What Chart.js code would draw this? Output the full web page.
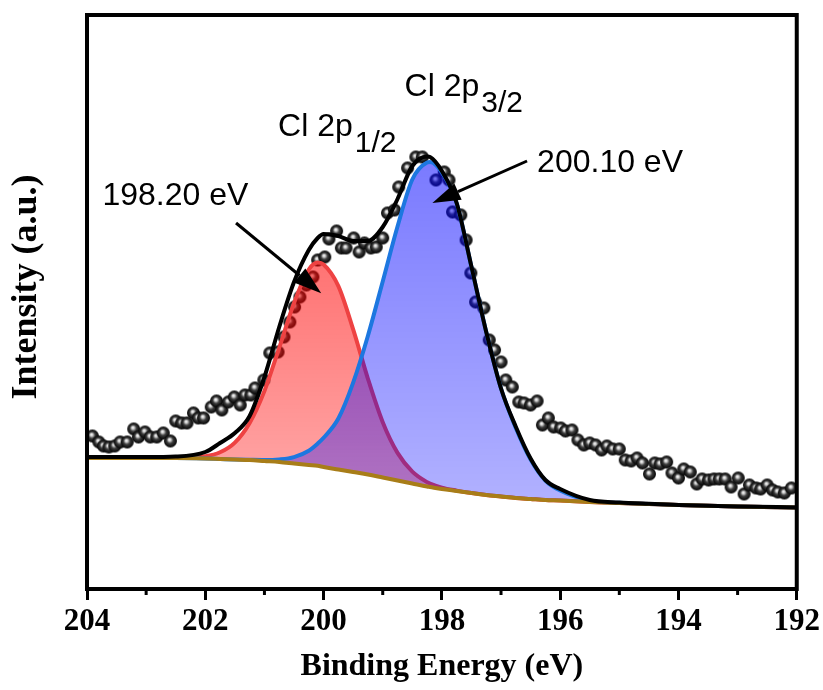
<!DOCTYPE html>
<html>
<head>
<meta charset="utf-8">
<title>Cl 2p XPS</title>
<script src="https://cdn.jsdelivr.net/npm/chart.js@4.4.0/dist/chart.umd.min.js"></script>
<style>
  html, body { margin: 0; padding: 0; background: #fff; }
</style>
</head>
<body>
<canvas id="xpsChart" width="823" height="690"></canvas>
<script>
// measured Cl 2p scan
const scanEnergy = [203.91, 203.80, 203.72, 203.63, 203.53, 203.44, 203.32, 203.21, 203.13, 203.02,
  202.93, 202.82, 202.71, 202.59, 202.50, 202.40, 202.31, 202.20, 202.12, 202.03,
  201.90, 201.81, 201.72, 201.61, 201.51, 201.41, 201.33, 201.23, 201.16, 201.01,
  200.91, 200.77, 200.67, 200.57, 200.49, 200.40, 200.29, 200.18, 200.10, 199.98,
  199.91, 199.78, 199.70, 199.62, 199.49, 199.40, 199.31, 199.20, 199.11, 199.00,
  198.92, 198.80, 198.73, 198.58, 198.44, 198.33, 198.10, 197.96, 197.88, 197.82,
  197.68, 197.59, 197.51, 197.43, 197.29, 197.20, 197.11, 197.00, 196.92, 196.81,
  196.70, 196.61, 196.50, 196.39, 196.30, 196.20, 196.11, 195.99, 195.91, 195.80,
  195.70, 195.60, 195.50, 195.40, 195.30, 195.21, 195.11, 195.00, 194.90, 194.80,
  194.70, 194.61, 194.49, 194.40, 194.31, 194.20, 194.11, 194.00, 193.91, 193.80,
  193.69, 193.60, 193.49, 193.40, 193.31, 193.21, 193.11, 192.99, 192.89, 192.80,
  192.69, 192.61, 192.50, 192.41, 192.32, 192.21, 192.09];
const scanCounts = [153, 147, 143, 142, 143, 147, 147, 160, 152, 157,
  152, 152, 156, 148, 168, 166, 166, 176, 171, 171,
  182, 188, 179, 187, 192, 184, 194, 194, 201, 209,
  236, 237, 252, 267, 282, 292, 304, 312, 329, 332,
  350, 358, 341, 341, 351, 337, 346, 341, 342, 351,
  376, 379, 402, 421, 432, 432, 409, 417, 409, 377,
  374, 349, 316, 287, 281, 249, 239, 227, 209, 202,
  187, 186, 184, 188, 164, 171, 162, 161, 158, 159,
  149, 144, 146, 144, 139, 143, 140, 140, 129, 128,
  131, 126, 115, 126, 125, 127, 116, 111, 120, 117,
  105, 110, 109, 110, 110, 110, 102, 111, 95, 104,
  101, 100, 104, 99, 97, 96, 101];

// fitted curves on a shared energy grid
const fitEnergy = [204, 203, 202.5, 202, 201.75, 201.5, 201.25, 201, 200.75, 200.5,
  200.25, 200.1, 200, 199.75, 199.5, 199.25, 199, 198.75, 198.5, 198.25,
  198.2, 198, 197.75, 197.5, 197.25, 197, 196.75, 196.5, 196.25, 196,
  195.5, 195, 194.5, 194, 193, 192];
const background = [131, 131, 131, 130.5, 130, 129.5, 129, 128, 127, 125.5,
  124, 123.2, 122, 119.5, 117, 114.5, 111.5, 108.5, 105.5, 102.5,
  102, 100, 98, 96, 94, 92.5, 91, 90, 89, 88.5,
  87, 86, 85, 84, 82.5, 81.5];
const peak2p12 = [131, 131, 131.3, 132.8, 136.7, 146.4, 166.1, 198.1, 241.2, 286,
  319.5, 326.5, 324.5, 302.9, 259.6, 210.2, 166.8, 136.1, 117.4, 106.9,
  105.5, 101.4, 98.4, 96, 94, 92.5, 91, 90, 89, 88.5,
  87, 86, 85, 84, 82.5, 81.5];
const peak2p32 = [131, 131, 131, 130.5, 130, 129.5, 129.2, 129, 129.6, 131.9,
  138.3, 145.4, 151.2, 170.5, 206.4, 253.3, 307.5, 362.5, 409.5, 426.5,
  427, 416.6, 385.6, 322, 257, 200.5, 161, 129.5, 108.5, 98.5,
  88.4, 86.2, 85.1, 84, 82.5, 81.5];
const envelope = [132, 132, 132.5, 137, 146, 156, 173, 212, 262, 307,
  339, 351, 355, 353, 348, 348, 362, 390, 423, 432.5,
  432, 418, 386, 322.4, 257, 200.5, 162.3, 130.5, 109, 100,
  89, 86.5, 85.2, 84.1, 82.6, 81.6];

const majorTicks = [204, 202, 200, 198, 196, 194, 192];
const minorTicks = [203, 201, 199, 197, 195, 193];

const toXY = (xs, ys) => xs.map((x, i) => ({ x: x, y: ys[i] }));

// shaded black bead used for the raw data points
function makeBead(r) {
  const c = document.createElement('canvas');
  const s = Math.ceil(r * 2 + 2);
  c.width = s; c.height = s;
  const g = c.getContext('2d');
  const m = s / 2;
  const grad = g.createRadialGradient(m - r * 0.15, m - r * 0.25, 0, m, m, r);
  grad.addColorStop(0, '#ffffff');
  grad.addColorStop(0.2, '#d4d4d4');
  grad.addColorStop(0.5, '#3c3c3c');
  grad.addColorStop(1, '#000000');
  g.fillStyle = grad;
  g.beginPath();
  g.arc(m, m, r, 0, Math.PI * 2);
  g.fill();
  return c;
}

function verticalFill(ctx, topVal, rgb, aTop, aBottom) {
  const chart = ctx.chart;
  if (!chart.chartArea) return `rgba(${rgb},${aTop})`;
  const y = chart.scales.y;
  const g = chart.ctx.createLinearGradient(0, y.getPixelForValue(topVal), 0, y.getPixelForValue(Math.min(...background)));
  g.addColorStop(0, `rgba(${rgb},${aTop})`);
  g.addColorStop(1, `rgba(${rgb},${aBottom})`);
  return g;
}

function arrow(ctx, x0, y0, x1, y1) {
  const ang = Math.atan2(y1 - y0, x1 - x0);
  const len = 28, half = 9;
  const bx = x1 - len * Math.cos(ang), by = y1 - len * Math.sin(ang);
  ctx.beginPath();
  ctx.moveTo(x0, y0);
  ctx.lineTo(bx, by);
  ctx.stroke();
  ctx.beginPath();
  ctx.moveTo(x1, y1);
  ctx.lineTo(bx + half * Math.sin(ang), by - half * Math.cos(ang));
  ctx.lineTo(bx - half * Math.sin(ang), by + half * Math.cos(ang));
  ctx.closePath();
  ctx.fill();
}

// frame, minor ticks, y title, peak labels and arrows
const decorations = {
  id: 'decorations',
  afterDatasetsDraw(chart) {
    const { ctx, chartArea: a, scales: { x, y } } = chart;
    const px = v => x.getPixelForValue(v);
    const py = v => y.getPixelForValue(v);
    ctx.save();
    ctx.strokeStyle = '#000';
    ctx.fillStyle = '#000';
    ctx.lineWidth = 4;
    ctx.strokeRect(a.left, a.top, a.right - a.left, a.bottom - a.top);

    ctx.lineWidth = 3;
    minorTicks.forEach(v => {
      ctx.beginPath();
      ctx.moveTo(px(v), a.bottom);
      ctx.lineTo(px(v), a.bottom + 6);
      ctx.stroke();
    });

    ctx.save();
    ctx.translate(27, py(302));
    ctx.rotate(-Math.PI / 2);
    ctx.textAlign = 'center';
    ctx.textBaseline = 'middle';
    ctx.font = 'bold 36px "Liberation Serif", "Times New Roman", serif';
    ctx.fillText('Intensity (a.u.)', 0, 0);
    ctx.restore();

    ctx.lineWidth = 3;
    arrow(ctx, px(201.48), py(366), px(200.04), py(295.7));
    arrow(ctx, px(196.56), py(428), px(198.16), py(386));

    ctx.textBaseline = 'alphabetic';
    ctx.textAlign = 'left';
    ctx.font = '32px "Liberation Sans", Arial, sans-serif';
    ctx.fillText('198.20 eV', px(203.74), py(384));
    ctx.fillText('200.10 eV', px(196.39), py(417));

    const withSub = (main, sub, e, v) => {
      ctx.font = '32px "Liberation Sans", Arial, sans-serif';
      ctx.fillText(main, px(e), py(v));
      const w = ctx.measureText(main).width;
      ctx.font = '30px "Liberation Sans", Arial, sans-serif';
      ctx.fillText(sub, px(e) + w + 2, py(v) + 16);
    };
    withSub('Cl 2p', '1/2', 200.77, 453);
    withSub('Cl 2p', '3/2', 198.63, 493);
    ctx.restore();
  }
};

const bead = makeBead(6.5);
const serifBold = size => ({ family: '"Liberation Serif", "Times New Roman", serif', size: size, weight: 'bold' });

new Chart(document.getElementById('xpsChart'), {
  type: 'line',
  data: {
    datasets: [
      { label: 'Envelope', data: toXY(fitEnergy, envelope), borderColor: '#000000', borderWidth: 4,
        pointRadius: 0, fill: false, cubicInterpolationMode: 'monotone', order: 0 },
      { label: 'Background', data: toXY(fitEnergy, background), borderColor: '#a87d18', borderWidth: 4,
        pointRadius: 0, fill: false, cubicInterpolationMode: 'monotone', order: 1 },
      { label: 'Cl 2p3/2', data: toXY(fitEnergy, peak2p32), borderColor: '#1d77e0', borderWidth: 4,
        pointRadius: 0, cubicInterpolationMode: 'monotone',
        backgroundColor: c => verticalFill(c, Math.max(...peak2p32), '0,0,255', 0.52, 0.3),
        fill: { target: 1 }, order: 2 },
      { label: 'Cl 2p1/2', data: toXY(fitEnergy, peak2p12), borderColor: '#ee4242', borderWidth: 4,
        pointRadius: 0, cubicInterpolationMode: 'monotone',
        backgroundColor: c => verticalFill(c, Math.max(...peak2p12), '255,0,0', 0.55, 0.33),
        fill: { target: 1 }, order: 3 },
      { label: 'Raw', data: toXY(scanEnergy, scanCounts), showLine: false,
        pointStyle: bead, pointRadius: 6.5, order: 4 }
    ]
  },
  options: {
    responsive: false,
    animation: false,
    events: [],
    layout: { padding: { top: 15, right: 25, bottom: 0, left: 0 } },
    plugins: { legend: { display: false }, tooltip: { enabled: false } },
    scales: {
      x: {
        type: 'linear', reverse: true, min: 192, max: 204,
        afterBuildTicks: s => { s.ticks = majorTicks.map(v => ({ value: v })); },
        afterFit: s => { s.height = 101; },
        grid: { display: true, drawOnChartArea: false, drawTicks: true, tickLength: 11, tickWidth: 3, tickColor: '#000' },
        border: { display: false },
        ticks: { color: '#000', font: serifBold(31), padding: 3, maxRotation: 0 },
        title: { display: true, text: 'Binding Energy (eV)', color: '#000', font: serifBold(32), padding: { top: 0, bottom: 4 } }
      },
      y: {
        type: 'linear', min: 0, max: 574,
        afterFit: s => { s.width = 87; },
        grid: { display: false },
        border: { display: false },
        ticks: { display: false },
        title: { display: false }
      }
    }
  },
  plugins: [decorations]
});
</script>
</body>
</html>
